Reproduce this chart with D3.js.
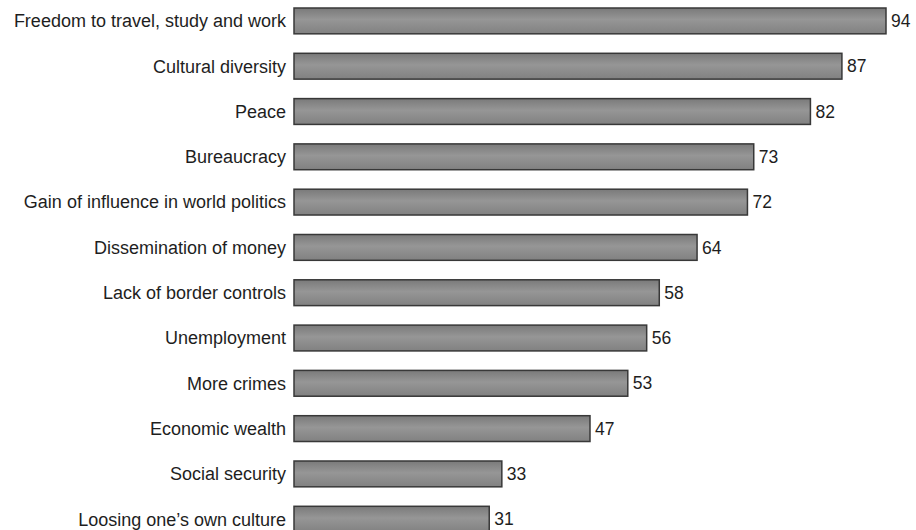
<!DOCTYPE html>
<html lang="en">
<head>
    <meta charset="UTF-8">
    <title>Associations</title>
    <script src="https://cdnjs.cloudflare.com/ajax/libs/d3/7.8.5/d3.min.js"></script>
    <style>
        body {
            margin: 0;
            background: #ffffff;
        }
        .label, .value {
            font-family: 'Liberation Sans', Arial, sans-serif;
            font-size: 18px;
            fill: #1e1e1e;
        }
        .value {
            font-size: 17.5px;
        }
    </style>
</head>
<body>
    <div id="chart"></div>
    <script>
        const categories = [
            "Freedom to travel, study and work",
            "Cultural diversity",
            "Peace",
            "Bureaucracy",
            "Gain of influence in world politics",
            "Dissemination of money",
            "Lack of border controls",
            "Unemployment",
            "More crimes",
            "Economic wealth",
            "Social security",
            "Loosing one\u2019s own culture"
        ];
        const values = [94, 87, 82, 73, 72, 64, 58, 56, 53, 47, 33, 31];

        const width = 916;
        const height = 530;

        const svg = d3.select("#chart")
            .append("svg")
            .attr("width", width)
            .attr("height", height);

        const defs = svg.append("defs");
        const grad = defs.append("linearGradient")
            .attr("id", "barFill")
            .attr("x1", 0).attr("y1", 0)
            .attr("x2", 0).attr("y2", 1);
        grad.append("stop").attr("offset", "0%").attr("stop-color", "#7a7a7a");
        grad.append("stop").attr("offset", "45%").attr("stop-color", "#969696");
        grad.append("stop").attr("offset", "100%").attr("stop-color", "#818181");

        // 0 sits at the bar start, 94 reaches ~886px
        const x = d3.scaleLinear()
            .domain([0, 94])
            .range([294, 886]);

        const step = 45.3;
        const y = d3.scaleBand()
            .domain(categories)
            .range([8 - 0.215 * step, 8 - 0.215 * step + categories.length * step])
            .paddingInner(0.43)
            .paddingOuter(0.215);

        const rows = svg.selectAll(".row")
            .data(categories.map((c, i) => ({name: c, value: values[i]})))
            .enter().append("g")
            .attr("class", "row");

        rows.append("rect")
            .attr("x", x(0))
            .attr("y", d => y(d.name))
            .attr("width", d => x(d.value) - x(0))
            .attr("height", y.bandwidth())
            .style("fill", "url(#barFill)")
            .style("stroke", "#383838")
            .style("stroke-width", 1.5);

        rows.append("text")
            .attr("class", "label")
            .attr("x", 286)
            .attr("y", d => y(d.name) + y.bandwidth() / 2)
            .attr("dy", ".35em")
            .style("text-anchor", "end")
            .text(d => d.name);

        rows.append("text")
            .attr("class", "value")
            .attr("x", d => x(d.value) + 5)
            .attr("y", d => y(d.name) + y.bandwidth() / 2)
            .attr("dy", ".35em")
            .text(d => d.value);
    </script>
</body>
</html>
